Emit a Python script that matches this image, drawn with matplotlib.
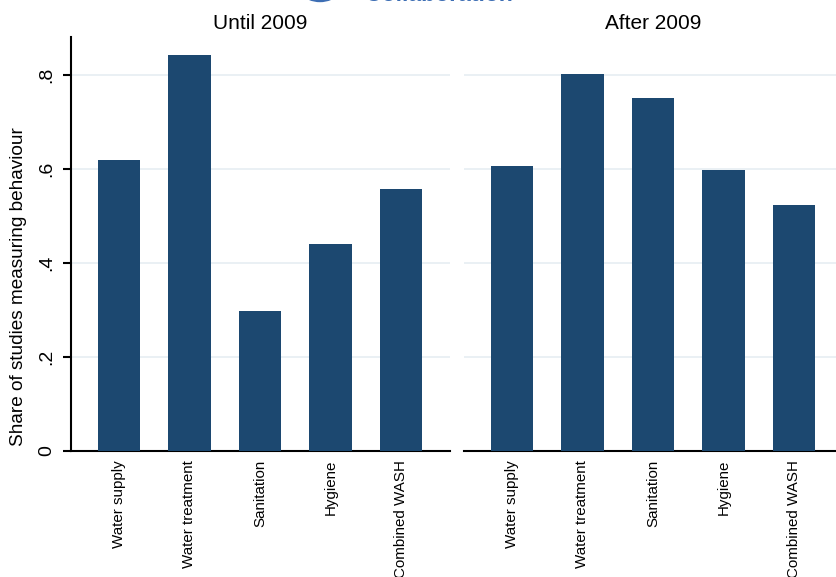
import numpy as np
import matplotlib
matplotlib.use("Agg")
import matplotlib.pyplot as plt
from matplotlib.patches import Circle

plt.rcParams['font.family'] = ['Liberation Sans', 'DejaVu Sans']

# --- Data ---
categories = ["Water supply", "Water treatment", "Sanitation", "Hygiene", "Combined WASH"]
until_2009 = [0.619, 0.843, 0.298, 0.440, 0.557]
after_2009 = [0.606, 0.802, 0.751, 0.598, 0.523]
panel_titles = ["Until 2009", "After 2009"]
yticks = [0, 0.2, 0.4, 0.6, 0.8]
ytick_labels = ["0", ".2", ".4", ".6", ".8"]

bar_color = "#1C4870"
grid_color = "#EAF0F4"
logo_color = "#3D6EB4"

W, H = 837, 577
fig = plt.figure(figsize=(W / 100, H / 100), dpi=100)

def px_axes(x0, x1, ytop, ybot):
    return fig.add_axes([x0 / W, (H - ybot) / H, (x1 - x0) / W, (ybot - ytop) / H])

ax_left = px_axes(71, 450, 37, 451)
ax_right = px_axes(464, 843, 37, 451)

x = np.arange(1, len(categories) + 1)
for ax, vals, title in zip([ax_left, ax_right], [until_2009, after_2009], panel_titles):
    ax.bar(x, vals, width=0.6, color=bar_color, zorder=3)
    ax.set_xlim(0.32, 5.695)
    ax.set_ylim(0, 0.881)
    for yv in yticks[1:]:
        ax.axhline(yv, color=grid_color, lw=1.4, zorder=1)
    ax.set_xticks(x)
    ax.set_xticklabels(categories, rotation=90, fontsize=10.9, va="top", ha="center")
    ax.tick_params(axis="x", length=0, pad=6.5)
    ax.set_title(title, fontsize=15, pad=5.8)
    for side in ["top", "right"]:
        ax.spines[side].set_visible(False)
    ax.spines["bottom"].set_linewidth(1.5)

ax_left.spines["left"].set_linewidth(1.5)
ax_left.set_yticks(yticks)
ax_left.set_yticklabels(ytick_labels, rotation=90, va="center", fontsize=14)
ax_left.tick_params(axis="y", length=6, width=1.5, pad=5)
ax_left.set_ylabel("Share of studies measuring behaviour", fontsize=13.7)
ax_left.yaxis.set_label_coords(-0.116, 0.396)

ax_right.spines["left"].set_visible(False)
ax_right.set_yticks([])

# logo partly cut off at the top edge
fig.text(365 / W, 1 - 1.2 / H, "Collaboration", color=logo_color, fontsize=16.6,
         fontweight="bold", va="baseline", ha="left")
fig.patches.append(Circle((320, H + 27.5), 29.7, transform=None,
                          facecolor=logo_color, edgecolor="none"))

fig.savefig("out.png", dpi=100)
